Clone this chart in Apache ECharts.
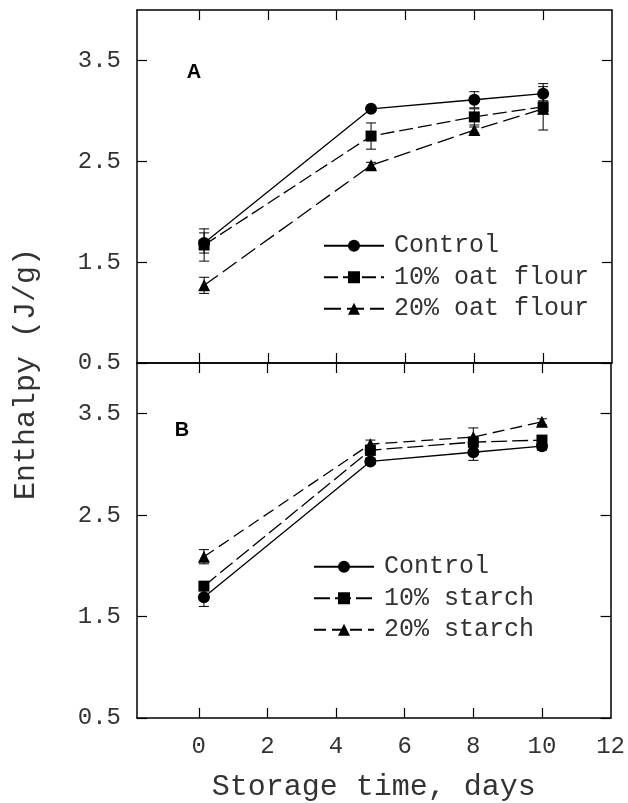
<!DOCTYPE html>
<html>
<head>
<meta charset="utf-8">
<script src="https://cdn.jsdelivr.net/npm/echarts@6/dist/echarts.min.js"></script>
<style>
  html, body { margin: 0; padding: 0; background: #fff; }
  #chart { width: 628px; height: 803px; }
</style>
</head>
<body>
<div id="chart"></div>
<script>
// Storage days (first point plotted slightly right of 0)
const days = [0.15, 5, 8, 10];

// Panel A - oat flour
const controlA = [1.69, 3.02, 3.11, 3.17];
const controlAErr = [0.10, 0.02, 0.08, 0.07];
const oat10 = [1.67, 2.75, 2.94, 3.04];
const oat10Err = [0.16, 0.13, 0.08, 0.23];
const oat20 = [1.27, 2.46, 2.81, 3.02];
const oat20Err = [0.08, 0.03, 0.03, 0.05];

// Panel B - starch
const controlB = [1.69, 3.03, 3.12, 3.18];
const controlBErr = [0.09, 0.03, 0.08, 0.04];
const starch10 = [1.80, 3.14, 3.22, 3.24];
const starch10Err = [0.04, 0.05, 0.05, 0.04];
const starch20 = [2.09, 3.20, 3.27, 3.42];
const starch20Err = [0.07, 0.04, 0.09, 0.03];

const xTicks = [0, 2, 4, 6, 8, 10];
const xLabels = [0, 2, 4, 6, 8, 10, 12];
const yTicks = [0.5, 1.5, 2.5, 3.5];

const legendA = ['Control', '10% oat flour', '20% oat flour'];
const legendB = ['Control', '10% starch', '20% starch'];

const FONT = 'Liberation Mono';
const INK = '#333';

function xAxisDef(grid, pos, labels, name) {
    return {
        type: 'value', gridIndex: grid, position: pos,
        min: -1.8, max: 12,
        axisLine: { show: true, onZero: false, lineStyle: { color: '#000', width: 1.5 } },
        axisTick: { show: true, inside: true, length: 10, customValues: xTicks, lineStyle: { color: '#000', width: 1.2 } },
        axisLabel: labels ? { show: true, customValues: xLabels, margin: 17, color: INK, fontFamily: FONT, fontSize: 24 } : { show: false },
        splitLine: { show: false },
        name: name || '',
        nameLocation: 'middle',
        nameGap: 54,
        nameTextStyle: { color: INK, fontFamily: FONT, fontSize: 30 }
    };
}

function yAxisDef(grid, pos, labels) {
    return {
        type: 'value', gridIndex: grid, position: pos,
        min: 0.5, max: 4.0,
        axisLine: { show: true, onZero: false, lineStyle: { color: '#000', width: 1.5 } },
        axisTick: { show: true, inside: true, length: 10, customValues: yTicks, lineStyle: { color: '#000', width: 1.2 } },
        axisLabel: labels ? { show: true, customValues: yTicks, margin: 16, color: INK, fontFamily: FONT, fontSize: 24,
            formatter: v => v.toFixed(1) } : { show: false },
        splitLine: { show: false }
    };
}

function lineSeries(name, axis, vals, symbol, dash) {
    return {
        name: name, type: 'line',
        xAxisIndex: axis, yAxisIndex: axis,
        data: days.map((d, i) => [d, vals[i]]),
        symbol: symbol,
        symbolSize: symbol === 'rect' ? 11 : 12,
        itemStyle: { color: '#000' },
        lineStyle: { color: '#000', width: 1.3, type: dash },
        z: 3,
        animation: false
    };
}

function errorSeries(axis, vals, errs) {
    return {
        type: 'custom',
        xAxisIndex: axis, yAxisIndex: axis,
        data: days.map((d, i) => [d, vals[i] - errs[i], vals[i] + errs[i]]),
        encode: { x: 0, y: [1, 2] },
        silent: true,
        z: 2,
        renderItem: function(params, api) {
            const lo = api.coord([api.value(0), api.value(1)]);
            const hi = api.coord([api.value(0), api.value(2)]);
            const w = 5;
            const st = { stroke: '#000', lineWidth: 1 };
            return {
                type: 'group',
                children: [
                    { type: 'line', shape: { x1: lo[0], y1: lo[1], x2: hi[0], y2: hi[1] }, style: st },
                    { type: 'line', shape: { x1: lo[0] - w, y1: lo[1], x2: lo[0] + w, y2: lo[1] }, style: st },
                    { type: 'line', shape: { x1: hi[0] - w, y1: hi[1], x2: hi[0] + w, y2: hi[1] }, style: st }
                ]
            };
        }
    };
}

function legendDef(names, left, top) {
    return {
        data: names,
        orient: 'vertical',
        left: left, top: top,
        itemWidth: 60, itemHeight: 15, itemGap: 0,
        selectedMode: false,
        textStyle: { color: INK, fontFamily: FONT, fontSize: 25, lineHeight: 31.5, padding: [0, 0, 0, 5] }
    };
}

const option = {
    backgroundColor: '#fff',
    animation: false,
    grid: [
        { left: 137, right: 16, top: 10, height: 353 },
        { left: 137, right: 16, top: 363, height: 356 }
    ],
    xAxis: [
        xAxisDef(0, 'bottom', false),
        xAxisDef(1, 'bottom', true, 'Storage time, days'),
        xAxisDef(0, 'top', false),
        xAxisDef(1, 'top', false)
    ],
    yAxis: [
        yAxisDef(0, 'left', true),
        yAxisDef(1, 'left', true),
        yAxisDef(0, 'right', false),
        yAxisDef(1, 'right', false)
    ],
    legend: [
        legendDef(legendA, 318, 225),
        legendDef(legendB, 308, 546)
    ],
    graphic: [
        { type: 'text', x: 26, y: 374, rotation: Math.PI / 2,
          style: { text: 'Enthalpy (J/g)', fill: INK, font: '30px "Liberation Mono"', align: 'center', verticalAlign: 'middle' } },
        { type: 'text', x: 194, y: 72,
          style: { text: 'A', fill: '#000', font: 'bold 20px "Liberation Sans"', align: 'center', verticalAlign: 'middle' } },
        { type: 'text', x: 182, y: 430,
          style: { text: 'B', fill: '#000', font: 'bold 20px "Liberation Sans"', align: 'center', verticalAlign: 'middle' } }
    ],
    series: [
        errorSeries(0, controlA, controlAErr),
        errorSeries(0, oat10, oat10Err),
        errorSeries(0, oat20, oat20Err),
        lineSeries('Control', 0, controlA, 'circle', 'solid'),
        lineSeries('10% oat flour', 0, oat10, 'rect', [14, 5]),
        lineSeries('20% oat flour', 0, oat20, 'triangle', [17, 6]),
        errorSeries(1, controlB, controlBErr),
        errorSeries(1, starch10, starch10Err),
        errorSeries(1, starch20, starch20Err),
        lineSeries('Control', 1, controlB, 'circle', 'solid'),
        lineSeries('10% starch', 1, starch10, 'rect', [16, 5]),
        lineSeries('20% starch', 1, starch20, 'triangle', [12, 6])
    ]
};

const chart = echarts.init(document.getElementById('chart'));
chart.setOption(option);
</script>
</body>
</html>
